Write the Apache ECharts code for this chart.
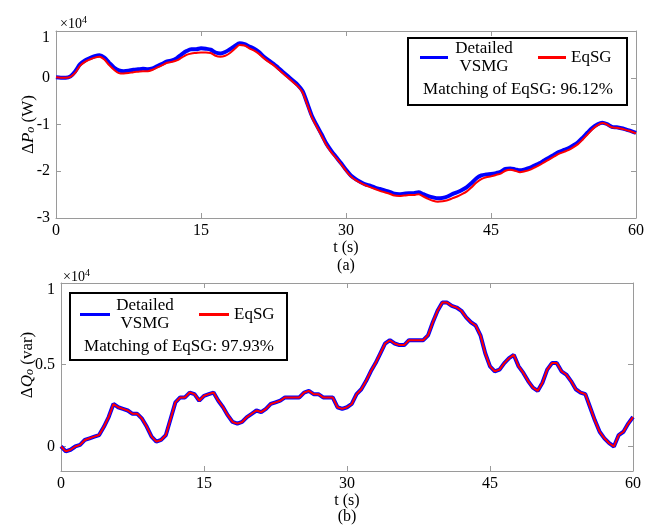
<!DOCTYPE html>
<html>
<head>
<meta charset="utf-8">
<script src="https://cdn.jsdelivr.net/npm/echarts@6/dist/echarts.min.js"></script>
<style>
html,body{margin:0;padding:0;background:#fff;}
#c{width:656px;height:525px;}
</style>
</head>
<body>
<div id="c"></div>
<script>
// time samples (s)
const tSec = [0,0.5,1,1.5,2,2.5,3,3.5,4,4.5,5,5.5,6,6.5,7,7.5,8,8.5,9,9.5,10,10.5,11,11.5,12,12.5,13,13.5,14,14.5,15,15.5,16,16.5,17,17.5,18,18.5,19,19.5,20,20.5,21,21.5,22,22.5,23,23.5,24,24.5,25,25.5,26,26.5,27,27.5,28,28.5,29,29.5,30,30.5,31,31.5,32,32.5,33,33.5,34,34.5,35,35.5,36,36.5,37,37.5,38,38.5,39,39.5,40,40.5,41,41.5,42,42.5,43,43.5,44,44.5,45,45.5,46,46.5,47,47.5,48,48.5,49,49.5,50,50.5,51,51.5,52,52.5,53,53.5,54,54.5,55,55.5,56,56.5,57,57.5,58,58.5,59,59.5,60];

// (a) ΔPo, units of 1e4 W
const pDetailed = [0.01,0.00,0.00,0.03,0.14,0.29,0.37,0.42,0.46,0.48,0.43,0.32,0.22,0.16,0.14,0.15,0.17,0.18,0.19,0.18,0.20,0.25,0.30,0.35,0.37,0.42,0.50,0.57,0.61,0.61,0.63,0.62,0.60,0.54,0.52,0.55,0.61,0.68,0.74,0.72,0.67,0.62,0.55,0.45,0.37,0.30,0.21,0.12,0.03,-0.06,-0.15,-0.28,-0.55,-0.83,-1.03,-1.22,-1.42,-1.57,-1.70,-1.83,-1.97,-2.09,-2.17,-2.23,-2.28,-2.31,-2.35,-2.38,-2.41,-2.44,-2.48,-2.49,-2.48,-2.47,-2.47,-2.45,-2.49,-2.53,-2.56,-2.58,-2.57,-2.54,-2.49,-2.45,-2.40,-2.34,-2.25,-2.15,-2.09,-2.07,-2.06,-2.04,-2.01,-1.95,-1.94,-1.96,-1.98,-1.96,-1.93,-1.88,-1.83,-1.77,-1.71,-1.65,-1.59,-1.55,-1.51,-1.45,-1.38,-1.28,-1.17,-1.07,-1.00,-0.96,-0.99,-1.05,-1.06,-1.08,-1.11,-1.14,-1.18];
const pEqSG = [0.01,0.00,0.00,0.02,0.11,0.26,0.34,0.39,0.43,0.45,0.39,0.27,0.17,0.10,0.09,0.10,0.12,0.13,0.14,0.14,0.17,0.22,0.27,0.32,0.34,0.37,0.43,0.49,0.52,0.53,0.54,0.54,0.53,0.47,0.45,0.47,0.53,0.62,0.70,0.69,0.63,0.58,0.51,0.42,0.34,0.27,0.18,0.09,0.00,-0.09,-0.18,-0.31,-0.58,-0.86,-1.06,-1.25,-1.45,-1.60,-1.72,-1.85,-1.99,-2.11,-2.19,-2.25,-2.30,-2.34,-2.38,-2.42,-2.45,-2.48,-2.52,-2.53,-2.52,-2.51,-2.51,-2.49,-2.54,-2.59,-2.63,-2.65,-2.64,-2.62,-2.58,-2.54,-2.49,-2.43,-2.34,-2.24,-2.17,-2.13,-2.11,-2.08,-2.05,-1.99,-1.97,-1.99,-2.02,-2.00,-1.97,-1.92,-1.87,-1.81,-1.75,-1.69,-1.63,-1.59,-1.55,-1.49,-1.42,-1.32,-1.21,-1.10,-1.02,-0.97,-1.00,-1.06,-1.07,-1.09,-1.12,-1.15,-1.19];

// (b) ΔQo, units of 1e4 var
const qDetailed = [0.00,-0.03,-0.02,0.00,0.01,0.04,0.05,0.06,0.07,0.12,0.18,0.26,0.24,0.23,0.22,0.20,0.20,0.17,0.12,0.06,0.03,0.04,0.07,0.17,0.27,0.30,0.30,0.33,0.32,0.28,0.31,0.32,0.33,0.28,0.24,0.19,0.15,0.14,0.15,0.18,0.20,0.22,0.21,0.23,0.26,0.27,0.28,0.30,0.30,0.30,0.30,0.33,0.34,0.32,0.32,0.30,0.30,0.30,0.24,0.23,0.24,0.26,0.32,0.35,0.40,0.46,0.51,0.57,0.63,0.65,0.63,0.62,0.62,0.65,0.65,0.65,0.65,0.68,0.76,0.83,0.88,0.88,0.86,0.85,0.83,0.79,0.76,0.74,0.68,0.57,0.49,0.46,0.47,0.51,0.54,0.56,0.49,0.45,0.40,0.36,0.34,0.39,0.47,0.51,0.51,0.46,0.44,0.40,0.35,0.33,0.32,0.24,0.16,0.09,0.05,0.02,0.00,0.07,0.09,0.14,0.18];
const qEqSG = [0.00,-0.03,-0.02,0.00,0.01,0.04,0.05,0.06,0.07,0.12,0.18,0.26,0.24,0.23,0.22,0.20,0.20,0.17,0.12,0.06,0.03,0.04,0.07,0.17,0.27,0.30,0.30,0.33,0.32,0.28,0.31,0.32,0.33,0.28,0.24,0.19,0.15,0.14,0.15,0.18,0.20,0.22,0.21,0.23,0.26,0.27,0.28,0.30,0.30,0.30,0.30,0.33,0.34,0.32,0.32,0.30,0.30,0.30,0.24,0.23,0.24,0.26,0.32,0.35,0.40,0.46,0.51,0.57,0.63,0.65,0.63,0.62,0.62,0.65,0.65,0.65,0.65,0.68,0.76,0.83,0.88,0.88,0.86,0.85,0.83,0.79,0.76,0.74,0.68,0.57,0.49,0.46,0.47,0.51,0.54,0.56,0.49,0.45,0.40,0.36,0.34,0.39,0.47,0.51,0.51,0.46,0.44,0.40,0.35,0.33,0.32,0.24,0.16,0.09,0.05,0.02,0.00,0.07,0.09,0.14,0.18];

const xTicks = [0, 15, 30, 45, 60];
const pTicks = [1, 0, -1, -2, -3];
const qTicks = [0, 0.5, 1];
const matchP = 'Matching of EqSG: 96.12%';
const matchQ = 'Matching of EqSG: 97.93%';
const seriesNames = ['Detailed VSMG', 'EqSG'];

const FONT = '"Liberation Serif", "Times New Roman", serif';
const AX = '#9a9a9a';
const pair = (arr) => tSec.map((t, i) => [t, arr[i]]);

function xAx(grid, show) {
  return {
    type: 'value', gridIndex: grid, min: 0, max: 60, interval: 15,
    position: show ? 'bottom' : 'top',
    axisLine: { show: true, onZero: false, lineStyle: { color: AX, width: 1 } },
    axisTick: { show: true, inside: true, length: 5, lineStyle: { color: AX } },
    axisLabel: { show: show, color: '#000', fontFamily: FONT, fontSize: 16, margin: 5 },
    splitLine: { show: false },
    name: show ? 't (s)' : '', nameLocation: 'middle', nameGap: 22, nameMoveOverlap: false,
    nameTextStyle: { color: '#000', fontFamily: FONT, fontSize: 16 }
  };
}

const topLabelRich = { t: { fontFamily: FONT, fontSize: 16, color: '#000', padding: [13, 0, 0, 0] } };
const yFmt = v => (v === 1 ? '{t|1}' : String(v));

const nameRich = {
  d: { fontFamily: FONT, fontSize: 17, color: '#000' },
  i: { fontFamily: FONT, fontSize: 17, fontStyle: 'italic', color: '#000' },
  s: { fontFamily: FONT, fontSize: 12, fontStyle: 'italic', color: '#000', verticalAlign: 'bottom', padding: [5, 0, 0, 0] },
  n: { fontFamily: FONT, fontSize: 17, color: '#000' }
};

const option = {
  animation: false,
  backgroundColor: '#fff',
  grid: [
    { left: 56, top: 31, width: 580, height: 187 },
    { left: 61, top: 283, width: 572, height: 188 }
  ],
  xAxis: [xAx(0, true), xAx(0, false), xAx(1, true), xAx(1, false)],
  yAxis: [
    {
      type: 'value', gridIndex: 0, min: -3, max: 1, interval: 1, position: 'left',
      axisLine: { show: true, onZero: false, lineStyle: { color: AX } },
      axisTick: { show: true, inside: true, length: 5, lineStyle: { color: AX } },
      axisLabel: { color: '#000', fontFamily: FONT, fontSize: 16, margin: 6,
        customValues: pTicks, formatter: yFmt, rich: topLabelRich },
      splitLine: { show: false },
      name: '{d|Δ}{i|P}{s|o}{n| (W)}', nameLocation: 'middle', nameGap: 19, nameRotate: 90, nameMoveOverlap: false,
      nameTextStyle: { color: '#000', fontFamily: FONT, fontSize: 17, rich: nameRich }
    },
    {
      type: 'value', gridIndex: 0, min: -3, max: 1, interval: 1, position: 'right',
      axisLine: { show: true, onZero: false, lineStyle: { color: AX } },
      axisTick: { show: true, inside: true, length: 5, lineStyle: { color: AX } },
      axisLabel: { show: false }, splitLine: { show: false }
    },
    {
      type: 'value', gridIndex: 1, min: -0.15, max: 1, position: 'left',
      axisLine: { show: true, onZero: false, lineStyle: { color: AX } },
      axisTick: { show: true, inside: true, length: 5, lineStyle: { color: AX }, customValues: qTicks },
      axisLabel: { color: '#000', fontFamily: FONT, fontSize: 16, margin: 6,
        customValues: qTicks, formatter: yFmt, rich: topLabelRich },
      splitLine: { show: false },
      name: '{d|Δ}{i|Q}{s|o}{n| (var)}', nameLocation: 'middle', nameGap: 25, nameRotate: 90, nameMoveOverlap: false,
      nameTextStyle: { color: '#000', fontFamily: FONT, fontSize: 17, padding: [0, 0, 0, 24], rich: nameRich }
    },
    {
      type: 'value', gridIndex: 1, min: -0.15, max: 1, position: 'right',
      axisLine: { show: true, onZero: false, lineStyle: { color: AX } },
      axisTick: { show: true, inside: true, length: 5, lineStyle: { color: AX }, customValues: qTicks },
      axisLabel: { show: false }, splitLine: { show: false }
    }
  ],
  legend: [
    {
      left: 420, top: 40, padding: 0, orient: 'horizontal', itemGap: 23,
      icon: 'rect', itemWidth: 28, itemHeight: 3, selectedMode: false,
      data: seriesNames,
      formatter: n => n === 'Detailed VSMG' ? '{a|Detailed}\n{a|VSMG}' : '{b|EqSG}',
      textStyle: { color: '#000', fontFamily: FONT, fontSize: 17,
        rich: { a: { width: 62, align: 'center', fontFamily: FONT, fontSize: 17, lineHeight: 18, color: '#000' },
                b: { fontFamily: FONT, fontSize: 17, color: '#000' } } }
    },
    {
      left: 80, top: 297, padding: 0, orient: 'horizontal', itemGap: 24,
      icon: 'rect', itemWidth: 30, itemHeight: 3, selectedMode: false,
      data: seriesNames,
      formatter: n => n === 'Detailed VSMG' ? '{a|Detailed}\n{a|VSMG}' : '{b|EqSG}',
      textStyle: { color: '#000', fontFamily: FONT, fontSize: 17,
        rich: { a: { width: 60, align: 'center', fontFamily: FONT, fontSize: 17, lineHeight: 18, color: '#000' },
                b: { fontFamily: FONT, fontSize: 17, color: '#000' } } }
    }
  ],
  graphic: [
    { type: 'rect', shape: { x: 408, y: 38, width: 219, height: 67 }, style: { fill: 'rgba(0,0,0,0)', stroke: '#000', lineWidth: 2 }, z: 10 },
    { type: 'text', x: 518, y: 90, style: { text: matchP, align: 'center', verticalAlign: 'middle', font: '17px ' + FONT, fill: '#000' }, z: 10 },
    { type: 'rect', shape: { x: 70, y: 293, width: 217, height: 67 }, style: { fill: 'rgba(0,0,0,0)', stroke: '#000', lineWidth: 2 }, z: 10 },
    { type: 'text', x: 179, y: 347, style: { text: matchQ, align: 'center', verticalAlign: 'middle', font: '17px ' + FONT, fill: '#000' }, z: 10 },
    { type: 'text', x: 60, y: 24, style: { text: '{a|×10}{b|4}', verticalAlign: 'middle', font: '14px ' + FONT, fill: '#000',
        rich: { a: { fontFamily: FONT, fontSize: 14, fill: '#000' }, b: { fontFamily: FONT, fontSize: 10, fill: '#000', verticalAlign: 'top', padding: [0, 0, 8, 0] } } } },
    { type: 'text', x: 63, y: 277, style: { text: '{a|×10}{b|4}', verticalAlign: 'middle', font: '14px ' + FONT, fill: '#000',
        rich: { a: { fontFamily: FONT, fontSize: 14, fill: '#000' }, b: { fontFamily: FONT, fontSize: 10, fill: '#000', verticalAlign: 'top', padding: [0, 0, 8, 0] } } } },
    { type: 'text', x: 346, y: 266, style: { text: '(a)', align: 'center', verticalAlign: 'middle', font: '16px ' + FONT, fill: '#000' } },
    { type: 'text', x: 347, y: 517, style: { text: '(b)', align: 'center', verticalAlign: 'middle', font: '16px ' + FONT, fill: '#000' } }
  ],
  series: [
    { name: seriesNames[0], type: 'line', xAxisIndex: 0, yAxisIndex: 0, data: pair(pDetailed), showSymbol: false, smooth: 0.3,
      lineStyle: { color: '#0000ff', width: 4 }, itemStyle: { color: '#0000ff' } },
    { name: seriesNames[1], type: 'line', xAxisIndex: 0, yAxisIndex: 0, data: pair(pEqSG), showSymbol: false, smooth: 0.3,
      lineStyle: { color: '#ff0000', width: 2 }, itemStyle: { color: '#ff0000' } },
    { name: seriesNames[0], type: 'line', xAxisIndex: 2, yAxisIndex: 2, data: pair(qDetailed), showSymbol: false,
      lineStyle: { color: '#0000ff', width: 4 }, itemStyle: { color: '#0000ff' } },
    { name: seriesNames[1], type: 'line', xAxisIndex: 2, yAxisIndex: 2, data: pair(qEqSG), showSymbol: false,
      lineStyle: { color: '#ff0000', width: 2 }, itemStyle: { color: '#ff0000' } }
  ]
};

const chart = echarts.init(document.getElementById('c'), null, { renderer: 'canvas' });
chart.setOption(option);
</script>
</body>
</html>
